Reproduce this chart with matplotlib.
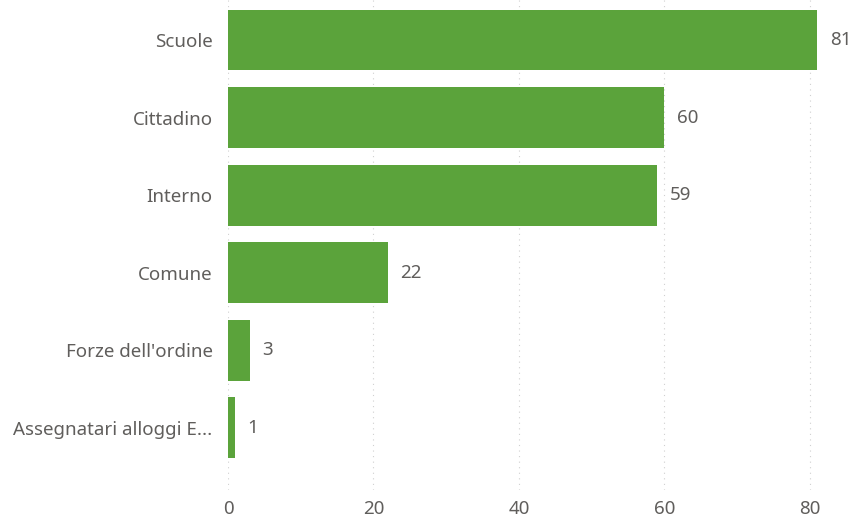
import numpy as np
import matplotlib
matplotlib.use("Agg")
import matplotlib.pyplot as plt

plt.rcParams['font.family'] = ['Noto Sans', 'DejaVu Sans']

categories = ["Scuole", "Cittadino", "Interno", "Comune", "Forze dell'ordine", "Assegnatari alloggi E..."]
values = [81, 60, 59, 22, 3, 1]
xticks = [0, 20, 40, 60, 80]

bar_color = "#5BA33B"
text_color = "#605E5C"

fig = plt.figure(figsize=(8.5, 5.2), dpi=100)
ax = fig.add_axes([228 / 850, 30 / 520, 1 - 228 / 850, 490 / 520])

y = np.arange(len(categories))
ax.barh(y, values, height=0.785, color=bar_color, zorder=3)

for yi, v in zip(y, values):
    ax.text(v + 1.7, yi, str(v), va='center', ha='left', fontsize=13.5, color=text_color)

ax.set_xlim(0, 85.5)
ax.set_ylim(5.8, -0.515)
ax.set_yticks(y)
ax.set_yticklabels(categories, fontsize=13.5, color=text_color)
ax.set_xticks(xticks)
ax.set_xticklabels([str(t) for t in xticks], fontsize=13.5, color=text_color)
ax.tick_params(axis='both', length=0)
ax.tick_params(axis='y', pad=11)
ax.tick_params(axis='x', pad=7)

ax.grid(axis='x', color='#D0D0D0', linestyle=(0, (1, 4)), linewidth=0.8, zorder=0)
for s in ax.spines.values():
    s.set_visible(False)

fig.savefig("out.png", dpi=100)
